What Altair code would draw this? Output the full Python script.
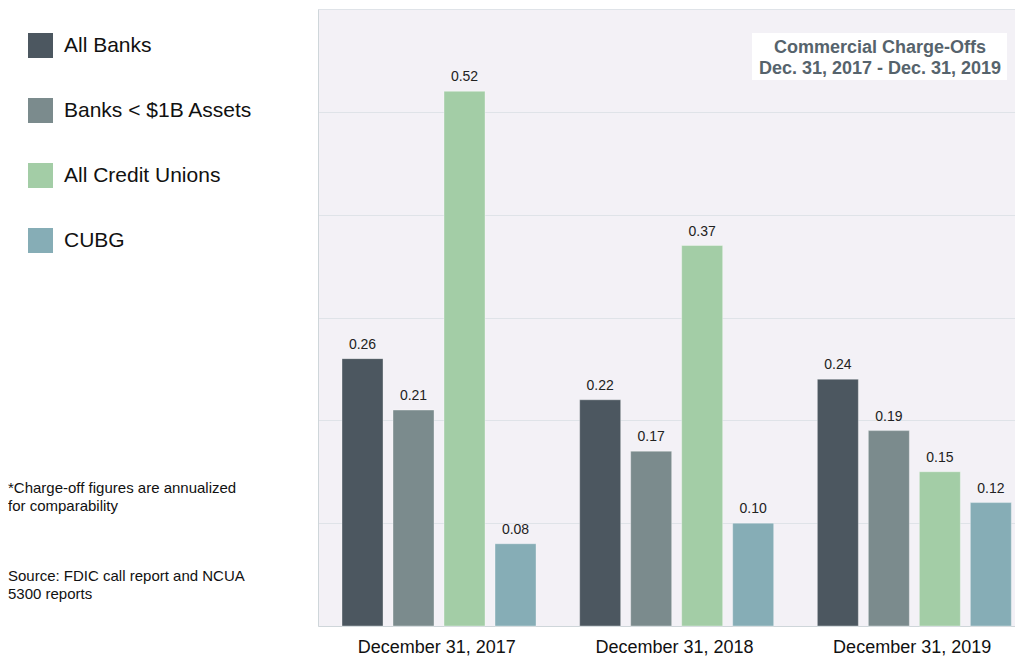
import altair as alt
import pandas as pd

periods = ["December 31, 2017", "December 31, 2018", "December 31, 2019"]
series = ["All Banks", "Banks < $1B Assets", "All Credit Unions", "CUBG"]
all_banks = [0.26, 0.22, 0.24]
small_banks = [0.21, 0.17, 0.19]
credit_unions = [0.52, 0.37, 0.15]
cubg = [0.08, 0.10, 0.12]
colors = ["#4c5760", "#7b8b8d", "#a3cda6", "#86adb6"]
title_lines = ["Commercial Charge-Offs", "Dec. 31, 2017 - Dec. 31, 2019"]
note1 = ["*Charge-off figures are annualized", "for comparability"]
note2 = ["Source: FDIC call report and NCUA", "5300 reports"]

rows = []
for s, vals in zip(series, [all_banks, small_banks, credit_unions, cubg]):
    for p, v in zip(periods, vals):
        rows.append({"period": p, "series": s, "value": v})
df = pd.DataFrame(rows)

FONT = "Liberation Sans"

x_enc = alt.X("period:N", sort=periods,
              scale=alt.Scale(paddingInner=0, paddingOuter=0),
              axis=alt.Axis(title=None, labelFontSize=18, labelFont=FONT, labelColor="#111111",
                            labelPadding=12, ticks=False, tickSize=0, domainColor="#cfd6da",
                            labelAngle=0, grid=False))
xo_enc = alt.XOffset("series:N", sort=series,
                     scale=alt.Scale(paddingInner=0.196, paddingOuter=0.428, align=0.55))
y_enc = alt.Y("value:Q", scale=alt.Scale(domain=[0, 0.6], nice=False, zero=True),
              axis=alt.Axis(title=None, labels=False, ticks=False, domain=True,
                            domainColor="#cfd6da", grid=True, gridColor="#dfe3e8",
                            values=[0, 0.1, 0.2, 0.3, 0.4, 0.5, 0.6]))

base = alt.Chart(df)

bars = base.mark_bar(stroke="#ffffff", strokeOpacity=0.35, strokeWidth=1).encode(
    x=x_enc, xOffset=xo_enc, y=y_enc,
    color=alt.Color("series:N", sort=series,
                    scale=alt.Scale(domain=series, range=colors),
                    legend=alt.Legend(title=None, orient="none", legendX=-290, legendY=24,
                                      symbolType="square", symbolSize=625, symbolStrokeWidth=0,
                                      symbolOpacity=1, labelFontSize=21, labelFont=FONT,
                                      labelColor="#111111", rowPadding=40, labelOffset=11,
                                      padding=0, labelLimit=400)),
)

labels = base.mark_text(fontSize=14, font=FONT, color="#222222", baseline="alphabetic", dy=-10).encode(
    x=x_enc, xOffset=xo_enc, y=y_enc,
    text=alt.Text("value:Q", format=".2f"),
)

one = alt.Data(values=[{"a": 1}])

title_box = alt.Chart(one).mark_rect(fill="#ffffff").encode(
    x=alt.value(434), x2=alt.value(689), y=alt.value(24), y2=alt.value(71))

title_text = alt.Chart(one).mark_text(
    text=title_lines, lineHeight=21, fontSize=18, fontWeight="bold", font=FONT,
    color="#56636c", align="center", baseline="alphabetic").encode(
    x=alt.value(562), y=alt.value(44))

note_a = alt.Chart(one).mark_text(
    text=note1, lineHeight=18, fontSize=15, font=FONT, color="#111111",
    align="left", baseline="alphabetic").encode(x=alt.value(-310), y=alt.value(484))

note_b = alt.Chart(one).mark_text(
    text=note2, lineHeight=18, fontSize=15, font=FONT, color="#111111",
    align="left", baseline="alphabetic").encode(x=alt.value(-310), y=alt.value(572))

chart = alt.layer(bars, labels, title_box, title_text, note_a, note_b).properties(
    width=713, height=617,
    autosize=alt.AutoSizeParams(type="none"),
    padding={"left": 310, "top": 1, "right": -16, "bottom": 30},
).configure(font=FONT).configure_view(stroke=None, fill="#f3f1f6")

chart.save("out.html", embed_options={"renderer": "svg", "actions": False})
